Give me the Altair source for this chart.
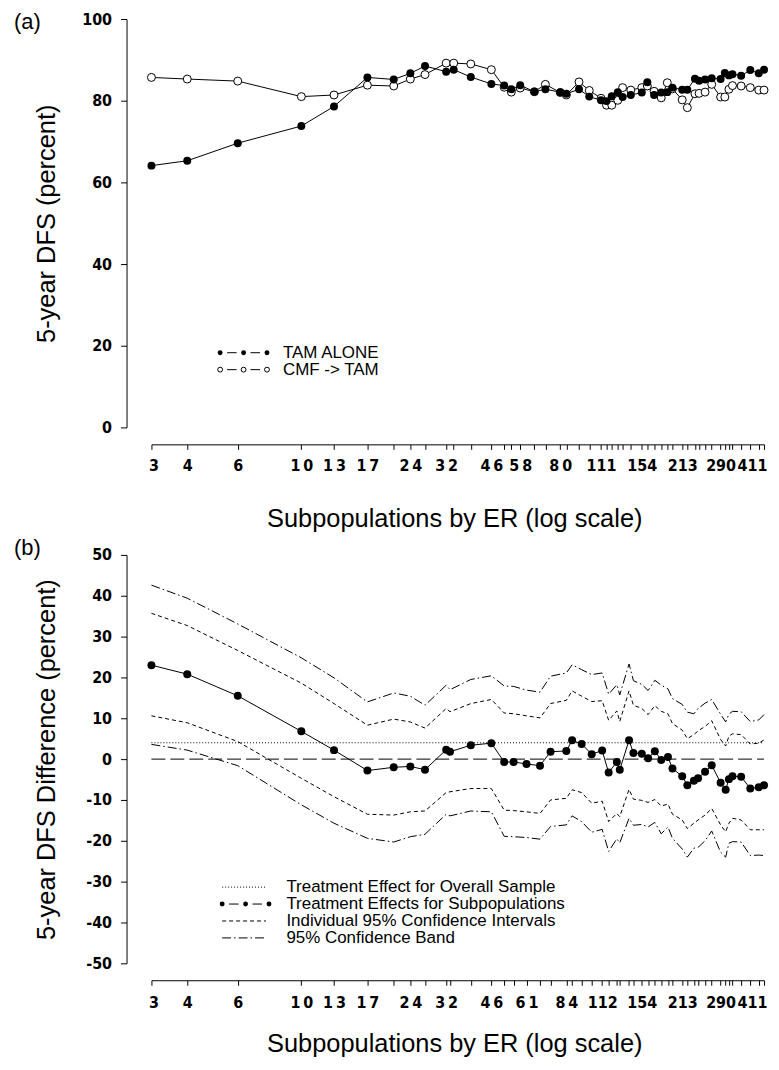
import altair as alt
import pandas as pd

# ---------------- panel (a): 5-year DFS by treatment ----------------
er_a = [3, 4, 6, 10, 13, 17, 21, 24, 27, 32, 34, 39, 46, 51, 54, 58, 65, 71, 80, 84,
        93, 101, 111, 116, 121, 127, 132, 141, 154, 161, 170, 180, 189, 197, 213, 222,
        236, 244, 256, 270, 290, 300, 310, 319, 342, 368, 394, 411]
tam_alone = [64.1, 65.3, 69.6, 73.8, 78.6, 85.7, 85.2, 86.7, 88.5, 87.1,
             87.6, 85.8, 84.1, 83.7, 82.8, 83.8, 82.2, 82.8, 82.1, 81.7,
             82.8, 81.0, 80.1, 79.9, 81.1, 82.1, 80.9, 81.4, 82.0, 84.5,
             81.4, 82.0, 82.1, 83.2, 82.7, 82.7, 85.4, 84.9, 85.2, 85.5,
             85.3, 86.8, 86.2, 86.5, 86.1, 87.5, 86.7, 87.6]
cmf_tam = [85.7, 85.3, 84.8, 81.0, 81.4, 83.8, 83.6, 85.3, 86.4, 89.2,
           89.2, 89.0, 87.6, 83.3, 82.1, 83.1, 82.2, 84.0, 82.0, 81.4,
           84.6, 82.5, 80.6, 78.9, 78.9, 80.1, 83.2, 82.6, 83.2, 83.6,
           82.3, 80.7, 84.4, 82.9, 80.2, 78.3, 81.7, 81.8, 82.1, 84.0,
           80.9, 80.9, 82.8, 83.7, 83.6, 83.2, 82.6, 82.6]
labels_a = [3, 4, 6, 10, 13, 17, 24, 32, 46, 58, 80, 111, 154, 213, 290, 411]
yticks_a = [0, 20, 40, 60, 80, 100]

# ---------------- panel (b): treatment effect (difference) ----------------
er_b = [3, 4, 6, 10, 13, 17, 21, 24, 27, 32, 33, 39, 46, 51, 55, 61, 68, 74, 84, 88,
        95, 103, 112, 118, 126, 129, 139, 144, 154, 162, 171, 180, 190, 197, 213, 222,
        234, 242, 256, 270, 290, 302, 310, 319, 342, 368, 394, 411]
effect = [23.0, 20.8, 15.5, 6.8, 2.2, -2.8, -2.0, -1.8, -2.6, 2.3,
          1.8, 3.4, 3.9, -0.7, -0.7, -1.2, -1.6, 1.8, 2.0, 4.6,
          3.7, 1.2, 2.1, -3.3, -0.7, -2.6, 4.6, 1.5, 1.3, 0.2,
          1.9, -0.2, 0.5, -2.3, -4.2, -6.4, -5.3, -4.7, -3.1, -1.5,
          -5.8, -7.5, -4.9, -4.2, -4.3, -7.2, -6.9, -6.4]
band_upper = [42.6, 39.4, 33.1, 24.8, 19.9, 14.0, 16.2, 15.4, 13.2, 18.1,
              17.0, 19.5, 20.4, 17.9, 17.8, 16.9, 16.4, 20.3, 21.1, 23.1,
              21.9, 20.7, 21.1, 15.9, 18.2, 15.7, 23.3, 19.2, 18.3, 16.8,
              19.3, 18.1, 17.2, 14.8, 13.4, 11.5, 11.1, 12.4, 13.7, 14.6,
              11.0, 9.1, 11.0, 11.7, 11.6, 9.2, 9.6, 10.9]
ci_upper = [35.7, 32.7, 26.6, 18.6, 13.6, 8.3, 9.8, 9.1, 7.6, 12.4,
            11.6, 13.6, 14.6, 11.3, 11.1, 10.6, 10.1, 13.6, 14.4, 16.7,
            15.4, 14.1, 14.3, 9.5, 11.8, 9.2, 16.7, 13.2, 12.4, 10.9,
            13.1, 11.7, 11.1, 8.7, 7.1, 5.0, 6.0, 6.9, 8.0, 9.4,
            4.8, 3.2, 5.6, 6.2, 6.0, 3.7, 3.9, 4.7]
ci_lower = [10.6, 8.9, 4.3, -4.7, -9.2, -13.5, -13.7, -12.9, -12.7, -8.2,
            -8.0, -7.2, -7.2, -12.5, -12.6, -12.9, -13.3, -10.0, -9.6, -7.5,
            -8.2, -10.8, -10.3, -15.3, -13.3, -14.1, -7.4, -9.8, -10.1, -10.6,
            -9.9, -11.5, -11.0, -13.5, -14.9, -17.0, -15.7, -14.9, -13.7, -12.1,
            -16.1, -17.8, -15.7, -14.5, -14.9, -17.3, -17.3, -17.3]
band_lower = [3.6, 2.2, -1.6, -11.2, -15.7, -19.4, -20.3, -19.0, -18.4, -13.5,
              -13.9, -12.7, -12.9, -18.9, -19.0, -19.2, -19.6, -16.5, -16.1, -13.9,
              -15.3, -17.9, -17.2, -22.6, -19.5, -20.5, -14.5, -16.2, -16.0, -16.6,
              -15.5, -18.3, -16.6, -19.4, -22.0, -24.0, -21.8, -21.6, -20.0, -17.6,
              -22.8, -24.0, -20.6, -20.2, -20.3, -23.6, -23.5, -23.6]
overall_effect = 4.0
labels_b = [3, 4, 6, 10, 13, 17, 24, 32, 46, 61, 84, 112, 154, 213, 290, 411]
yticks_b = [-50, -40, -30, -20, -10, 0, 10, 20, 30, 40, 50]

# ---------------- styling ----------------
SANS = "'Liberation Sans', Arial, Helvetica, sans-serif"
NARROW = "'Liberation Sans Narrow', 'Arial Narrow', 'DejaVu Sans Condensed', sans-serif"
W = 615
H = 410
X_TITLE = "Subpopulations by ER (log scale)"

df_a = pd.DataFrame({"er": er_a, "tam": tam_alone, "cmf": cmf_tam})
df_b = pd.DataFrame({"er": er_b, "effect": effect, "bu": band_upper, "cu": ci_upper,
                     "cl": ci_lower, "bl": band_lower})
df_ref = pd.DataFrame({"x0": [min(er_b)], "x1": [max(er_b)], "zero": [0.0],
                       "overall": [overall_effect]})
one = pd.DataFrame({"k": [0]})


def x_axis(ticks, labels, title_y, label_pad):
    lab = ",".join(str(v) for v in labels)
    expr = (f"indexof([{lab}], datum.value) < 0 ? '' : "
            "(datum.value >= 10 && datum.value < 100 ? "
            "substring(toString(datum.value),0,1) + '\u2009' + substring(toString(datum.value),1,2)"
            " : toString(datum.value))")
    return alt.Axis(values=ticks, labelExpr=expr, title=X_TITLE, offset=17, tickSize=5,
                    labelPadding=label_pad, labelFont=NARROW, labelFontSize=16,
                    labelFontWeight="bold", labelOverlap=False, labelFlush=True,
                    labelFlushOffset=3, titleFont=SANS, titleFontSize=25.5,
                    titleFontWeight="normal", titleX=304, titleY=title_y,
                    titleBaseline="middle", domainColor="black", tickColor="black",
                    labelColor="black", titleColor="black", grid=False, domainWidth=1,
                    tickWidth=1)


def y_axis(ticks, title, h):
    return alt.Axis(values=ticks, title=title, offset=25, tickSize=6, labelPadding=9,
                    labelExpr="toString(datum.value)", labelFont=NARROW, labelFontSize=16,
                    labelFontWeight="bold", titleFont=SANS, titleFontSize=25.5,
                    titleFontWeight="normal", titleX=-80, titleY=h / 2,
                    titleBaseline="middle", titleAngle=270, domainColor="black",
                    tickColor="black", labelColor="black", titleColor="black",
                    grid=False, domainWidth=1, tickWidth=1)


def txt(s, x, y, size=17, font=SANS, baseline="middle"):
    return alt.Chart(one).mark_text(text=s, font=font, fontSize=size, align="left",
                                    baseline=baseline, color="black").encode(
        x=alt.value(x), y=alt.value(y))


def seg(x1, x2, y, dash=None):
    kw = {} if dash is None else {"strokeDash": dash}
    return alt.Chart(one).mark_rule(color="black", strokeWidth=1, **kw).encode(
        x=alt.value(x1), x2=alt.value(x2), y=alt.value(y))


def dot(x, y, filled):
    if filled:
        m = alt.Chart(one).mark_circle(size=24, color="black", opacity=1)
    else:
        m = alt.Chart(one).mark_circle(size=24, color="white", stroke="black",
                                       strokeWidth=1, opacity=1)
    return m.encode(x=alt.value(x), y=alt.value(y))


def dash_dot_row(x0, y, filled):
    # three markers joined by short dashes, as in the original key
    xs = [x0, x0 + 23.5, x0 + 47]
    parts = [seg(xs[0] + 7, xs[1] - 7, y), seg(xs[1] + 7, xs[2] - 7, y)]
    parts += [dot(x, y, filled) for x in xs]
    return parts


# ---------------- panel (a) ----------------
xa = alt.X("er:Q", scale=alt.Scale(type="log", domain=[min(er_a), max(er_a)], nice=False),
           axis=x_axis(er_a, labels_a, 74, 8))
ya_scale = alt.Scale(domain=[0, 100], nice=False)
ya_axis = y_axis(yticks_a, "5-year DFS (percent)", H)

base_a = alt.Chart(df_a)
a_layers = [
    base_a.mark_line(color="black", strokeWidth=1).encode(
        x=xa, y=alt.Y("cmf:Q", scale=ya_scale, axis=ya_axis)),
    base_a.mark_line(color="black", strokeWidth=1).encode(
        x=xa, y=alt.Y("tam:Q", scale=ya_scale, axis=ya_axis)),
    base_a.mark_circle(size=64, color="white", stroke="black", strokeWidth=1, opacity=1).encode(
        x=xa, y=alt.Y("cmf:Q", scale=ya_scale, axis=ya_axis)),
    base_a.mark_circle(size=64, color="black", opacity=1).encode(
        x=xa, y=alt.Y("tam:Q", scale=ya_scale, axis=ya_axis)),
    txt("(a)", -138, 10, size=22, baseline="alphabetic"),
]
a_layers += dash_dot_row(69, 335, True)
a_layers += dash_dot_row(69, 352, False)
a_layers += [txt("TAM ALONE", 132, 335), txt("CMF -> TAM", 132, 352)]

chart_a = alt.layer(*a_layers).properties(width=W, height=H)

# ---------------- panel (b) ----------------
xb = alt.X("er:Q", scale=alt.Scale(type="log", domain=[min(er_b), max(er_b)], nice=False),
           axis=x_axis(er_b, labels_b, 64, 9))
yb_scale = alt.Scale(domain=[-50, 50], nice=False)
yb_axis = y_axis(yticks_b, "5-year DFS Difference (percent)", H)
xr = alt.X("x0:Q", scale=alt.Scale(type="log", domain=[min(er_b), max(er_b)], nice=False),
           axis=x_axis(er_b, labels_b, 64, 9))

base_b = alt.Chart(df_b)
base_r = alt.Chart(df_ref)
DASH_CI = [4, 3]
DASH_BAND = [9, 3, 1.5, 3]
b_layers = [
    base_r.mark_rule(color="black", strokeWidth=1, strokeDash=[14, 5]).encode(
        x=xr, x2="x1:Q", y=alt.Y("zero:Q", scale=yb_scale, axis=yb_axis)),
    base_r.mark_rule(color="black", strokeWidth=1, strokeDash=[1, 2]).encode(
        x=xr, x2="x1:Q", y=alt.Y("overall:Q", scale=yb_scale, axis=yb_axis)),
    base_b.mark_line(color="black", strokeWidth=1, strokeDash=DASH_BAND).encode(
        x=xb, y=alt.Y("bu:Q", scale=yb_scale, axis=yb_axis)),
    base_b.mark_line(color="black", strokeWidth=1, strokeDash=DASH_BAND).encode(
        x=xb, y=alt.Y("bl:Q", scale=yb_scale, axis=yb_axis)),
    base_b.mark_line(color="black", strokeWidth=1, strokeDash=DASH_CI).encode(
        x=xb, y=alt.Y("cu:Q", scale=yb_scale, axis=yb_axis)),
    base_b.mark_line(color="black", strokeWidth=1, strokeDash=DASH_CI).encode(
        x=xb, y=alt.Y("cl:Q", scale=yb_scale, axis=yb_axis)),
    base_b.mark_line(color="black", strokeWidth=1).encode(
        x=xb, y=alt.Y("effect:Q", scale=yb_scale, axis=yb_axis)),
    base_b.mark_circle(size=64, color="black", opacity=1).encode(
        x=xb, y=alt.Y("effect:Q", scale=yb_scale, axis=yb_axis)),
    txt("(b)", -138, 0.5, size=22, baseline="alphabetic"),
    seg(71, 115, 333.5, [1, 2]),
    seg(71, 115, 367.5, [4, 3]),
    seg(71, 115, 384.5, [9, 3, 1.5, 3]),
]
b_layers += dash_dot_row(71, 350.5, True)
b_layers += [
    txt("Treatment Effect for Overall Sample", 135.5, 333.5),
    txt("Treatment Effects for Subpopulations", 135.5, 350.5),
    txt("Individual 95% Confidence Intervals", 135.5, 367.5),
    txt("95% Confidence Band", 135.5, 384.5),
]
chart_b = alt.layer(*b_layers).properties(width=W, height=H)

chart = alt.vconcat(chart_a, chart_b, spacing=5).resolve_scale(
    x="independent", y="independent").resolve_axis(
    x="independent", y="independent").properties(
    padding={"left": 5, "top": 0, "right": 0, "bottom": 0}).configure_view(
    stroke="transparent")

chart.save("out.html", embed_options={"renderer": "svg", "actions": False})
